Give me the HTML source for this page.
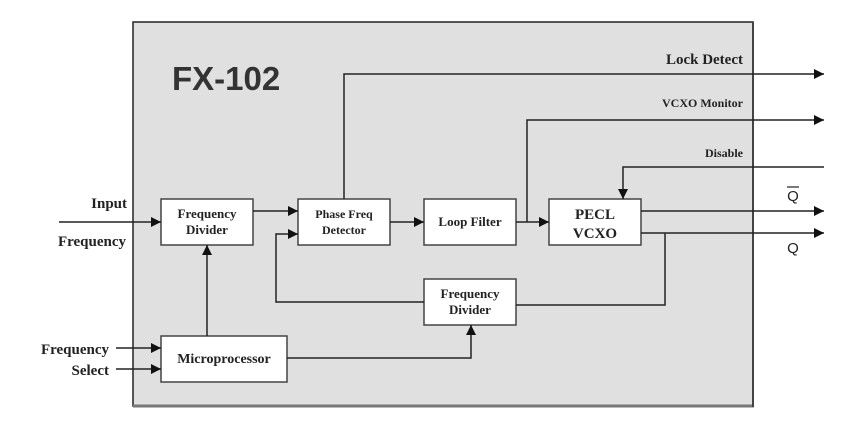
<!DOCTYPE html>
<html><head><meta charset="utf-8"><style>
html,body{margin:0;padding:0;background:#fff;}
svg{display:block;}
.s{font-family:"Liberation Serif",serif;font-weight:bold;fill:#222;}
</style></head><body>
<svg width="857" height="446" viewBox="0 0 857 446" xmlns="http://www.w3.org/2000/svg">
<defs>
<marker id="a" viewBox="0 0 10 10" refX="10" refY="5" markerWidth="10" markerHeight="10" markerUnits="userSpaceOnUse" orient="auto"><path d="M0,0 L10,5 L0,10 z" fill="#111"/></marker>
</defs>
<rect x="133" y="22" width="620" height="384" fill="#e0e0e0" stroke="#222" stroke-width="1.5"/>
<line x1="133" y1="406" x2="754" y2="406" stroke="#777" stroke-width="3"/>
<line x1="753" y1="22" x2="753" y2="407" stroke="#444" stroke-width="2"/>
<text x="172" y="90" font-family="Liberation Sans,sans-serif" font-weight="bold" font-size="33" fill="#333">FX-102</text>
<g fill="#fff" stroke="#444" stroke-width="1.5">
<rect x="161" y="199" width="92" height="46"/>
<rect x="298" y="199" width="92" height="46"/>
<rect x="424" y="199" width="92" height="46"/>
<rect x="549" y="199" width="92" height="46"/>
<rect x="424" y="279" width="92" height="46"/>
<rect x="161" y="336" width="126" height="46"/>
</g>
<g fill="none" stroke="#222" stroke-width="1.5">
<polyline points="344,199 344,74 824,74" marker-end="url(#a)"/>
<polyline points="527,222 527,120 824,120" marker-end="url(#a)"/>
<polyline points="824,167 623,167 623,199" marker-end="url(#a)"/>
<line x1="641" y1="211" x2="824" y2="211" marker-end="url(#a)"/>
<line x1="641" y1="233" x2="824" y2="233" marker-end="url(#a)"/>
<polyline points="665,233 665,305 516,305"/>
<polyline points="424,302 276,302 276,234 298,234" marker-end="url(#a)"/>
<line x1="253" y1="211" x2="298" y2="211" marker-end="url(#a)"/>
<line x1="390" y1="222" x2="424" y2="222" marker-end="url(#a)"/>
<line x1="516" y1="222" x2="549" y2="222" marker-end="url(#a)"/>
<line x1="59" y1="222" x2="161" y2="222" marker-end="url(#a)"/>
<line x1="207" y1="336" x2="207" y2="245" marker-end="url(#a)"/>
<line x1="116" y1="348" x2="161" y2="348" marker-end="url(#a)"/>
<line x1="116" y1="369" x2="161" y2="369" marker-end="url(#a)"/>
<polyline points="287,358 471,358 471,325" marker-end="url(#a)"/>
</g>
<g class="s" text-anchor="middle">
<text x="207" y="218" font-size="13">Frequency</text>
<text x="207" y="234" font-size="13">Divider</text>
<text x="344" y="218" font-size="12">Phase Freq</text>
<text x="344" y="234" font-size="12">Detector</text>
<text x="470" y="226" font-size="13">Loop Filter</text>
<text x="595" y="219" font-size="15">PECL</text>
<text x="595" y="238" font-size="15">VCXO</text>
<text x="470" y="298" font-size="13">Frequency</text>
<text x="470" y="314" font-size="13">Divider</text>
<text x="224" y="363" font-size="14">Microprocessor</text>
</g>
<g class="s" text-anchor="end">
<text x="127" y="208" font-size="15">Input</text>
<text x="126" y="246" font-size="15">Frequency</text>
<text x="109" y="354" font-size="15">Frequency</text>
<text x="109" y="375" font-size="15">Select</text>
<text x="743" y="64" font-size="15">Lock Detect</text>
<text x="743" y="107" font-size="12">VCXO Monitor</text>
<text x="743" y="157" font-size="12">Disable</text>
</g>
<text x="793" y="201" font-family="Liberation Sans,sans-serif" font-size="15" fill="#222" text-anchor="middle">Q</text>
<line x1="787" y1="187" x2="799" y2="187" stroke="#222" stroke-width="1.2"/>
<text x="793" y="253" font-family="Liberation Sans,sans-serif" font-size="15" fill="#222" text-anchor="middle">Q</text>
</svg>
</body></html>
